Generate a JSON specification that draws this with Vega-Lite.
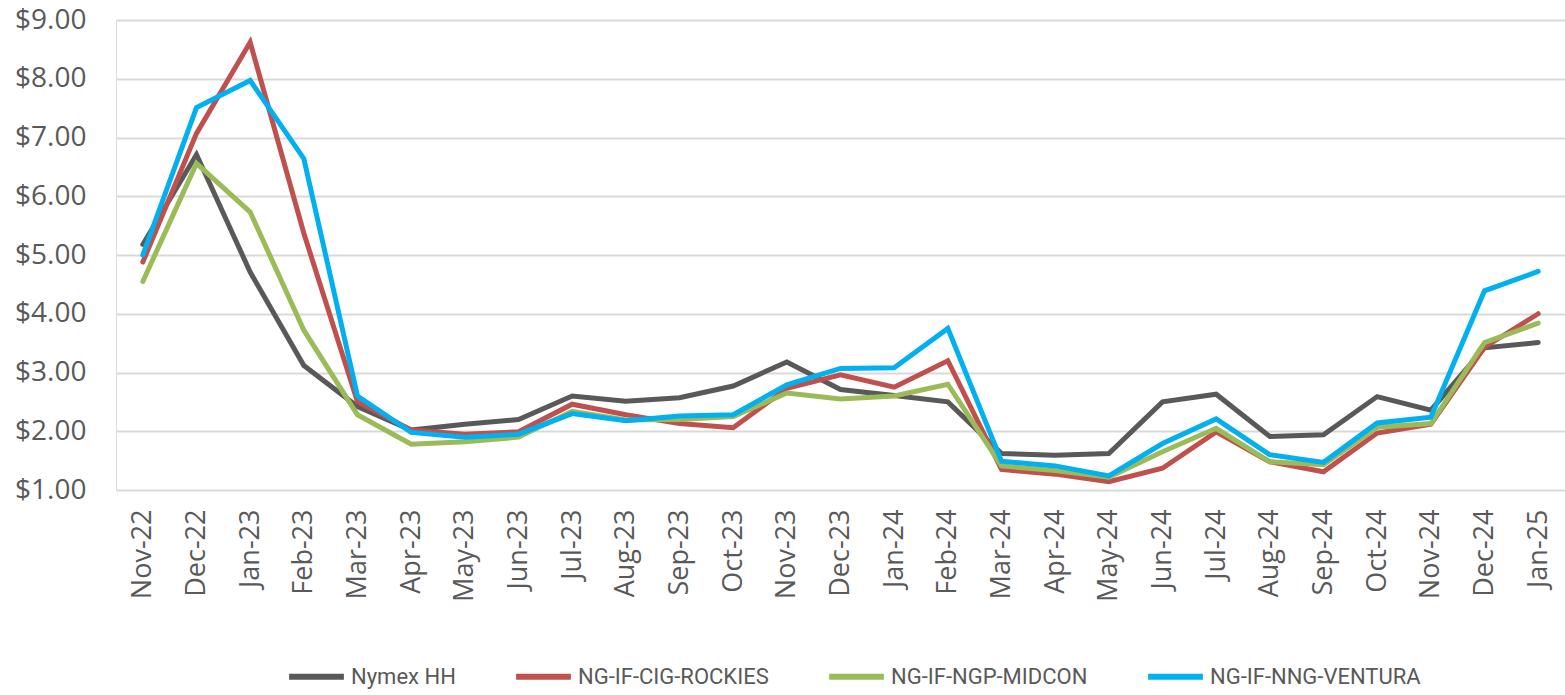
{
  "$schema": "https://vega.github.io/schema/vega-lite/v6.json",
  "autosize": {"type": "none"},
  "width": 1449,
  "height": 470,
  "padding": {"left": 116, "top": 20, "right": 0, "bottom": 205},
  "background": "white",
  "data": {
    "values": [
      {"month": "Nov-22", "Nymex HH": 5.18, "NG-IF-CIG-ROCKIES": 4.88, "NG-IF-NGP-MIDCON": 4.55, "NG-IF-NNG-VENTURA": 5.0},
      {"month": "Dec-22", "Nymex HH": 6.71, "NG-IF-CIG-ROCKIES": 7.07, "NG-IF-NGP-MIDCON": 6.56, "NG-IF-NNG-VENTURA": 7.51},
      {"month": "Jan-23", "Nymex HH": 4.71, "NG-IF-CIG-ROCKIES": 8.62, "NG-IF-NGP-MIDCON": 5.73, "NG-IF-NNG-VENTURA": 7.97},
      {"month": "Feb-23", "Nymex HH": 3.12, "NG-IF-CIG-ROCKIES": 5.37, "NG-IF-NGP-MIDCON": 3.72, "NG-IF-NNG-VENTURA": 6.64},
      {"month": "Mar-23", "Nymex HH": 2.42, "NG-IF-CIG-ROCKIES": 2.5, "NG-IF-NGP-MIDCON": 2.28, "NG-IF-NNG-VENTURA": 2.6},
      {"month": "Apr-23", "Nymex HH": 2.02, "NG-IF-CIG-ROCKIES": 2.02, "NG-IF-NGP-MIDCON": 1.78, "NG-IF-NNG-VENTURA": 1.98},
      {"month": "May-23", "Nymex HH": 2.12, "NG-IF-CIG-ROCKIES": 1.95, "NG-IF-NGP-MIDCON": 1.82, "NG-IF-NNG-VENTURA": 1.9},
      {"month": "Jun-23", "Nymex HH": 2.2, "NG-IF-CIG-ROCKIES": 1.99, "NG-IF-NGP-MIDCON": 1.9, "NG-IF-NNG-VENTURA": 1.95},
      {"month": "Jul-23", "Nymex HH": 2.6, "NG-IF-CIG-ROCKIES": 2.46, "NG-IF-NGP-MIDCON": 2.34, "NG-IF-NNG-VENTURA": 2.3},
      {"month": "Aug-23", "Nymex HH": 2.51, "NG-IF-CIG-ROCKIES": 2.28, "NG-IF-NGP-MIDCON": 2.19, "NG-IF-NNG-VENTURA": 2.18},
      {"month": "Sep-23", "Nymex HH": 2.57, "NG-IF-CIG-ROCKIES": 2.13, "NG-IF-NGP-MIDCON": 2.2, "NG-IF-NNG-VENTURA": 2.26},
      {"month": "Oct-23", "Nymex HH": 2.77, "NG-IF-CIG-ROCKIES": 2.06, "NG-IF-NGP-MIDCON": 2.25, "NG-IF-NNG-VENTURA": 2.28},
      {"month": "Nov-23", "Nymex HH": 3.18, "NG-IF-CIG-ROCKIES": 2.73, "NG-IF-NGP-MIDCON": 2.65, "NG-IF-NNG-VENTURA": 2.79},
      {"month": "Dec-23", "Nymex HH": 2.71, "NG-IF-CIG-ROCKIES": 2.96, "NG-IF-NGP-MIDCON": 2.55, "NG-IF-NNG-VENTURA": 3.07},
      {"month": "Jan-24", "Nymex HH": 2.61, "NG-IF-CIG-ROCKIES": 2.75, "NG-IF-NGP-MIDCON": 2.6, "NG-IF-NNG-VENTURA": 3.08},
      {"month": "Feb-24", "Nymex HH": 2.5, "NG-IF-CIG-ROCKIES": 3.2, "NG-IF-NGP-MIDCON": 2.8, "NG-IF-NNG-VENTURA": 3.75},
      {"month": "Mar-24", "Nymex HH": 1.62, "NG-IF-CIG-ROCKIES": 1.35, "NG-IF-NGP-MIDCON": 1.41, "NG-IF-NNG-VENTURA": 1.49},
      {"month": "Apr-24", "Nymex HH": 1.59, "NG-IF-CIG-ROCKIES": 1.27, "NG-IF-NGP-MIDCON": 1.33, "NG-IF-NNG-VENTURA": 1.41},
      {"month": "May-24", "Nymex HH": 1.62, "NG-IF-CIG-ROCKIES": 1.14, "NG-IF-NGP-MIDCON": 1.22, "NG-IF-NNG-VENTURA": 1.24},
      {"month": "Jun-24", "Nymex HH": 2.5, "NG-IF-CIG-ROCKIES": 1.37, "NG-IF-NGP-MIDCON": 1.65, "NG-IF-NNG-VENTURA": 1.79},
      {"month": "Jul-24", "Nymex HH": 2.63, "NG-IF-CIG-ROCKIES": 1.99, "NG-IF-NGP-MIDCON": 2.05, "NG-IF-NNG-VENTURA": 2.21},
      {"month": "Aug-24", "Nymex HH": 1.91, "NG-IF-CIG-ROCKIES": 1.48, "NG-IF-NGP-MIDCON": 1.48, "NG-IF-NNG-VENTURA": 1.6},
      {"month": "Sep-24", "Nymex HH": 1.94, "NG-IF-CIG-ROCKIES": 1.31, "NG-IF-NGP-MIDCON": 1.43, "NG-IF-NNG-VENTURA": 1.47},
      {"month": "Oct-24", "Nymex HH": 2.59, "NG-IF-CIG-ROCKIES": 1.97, "NG-IF-NGP-MIDCON": 2.07, "NG-IF-NNG-VENTURA": 2.14},
      {"month": "Nov-24", "Nymex HH": 2.36, "NG-IF-CIG-ROCKIES": 2.12, "NG-IF-NGP-MIDCON": 2.13, "NG-IF-NNG-VENTURA": 2.24},
      {"month": "Dec-24", "Nymex HH": 3.42, "NG-IF-CIG-ROCKIES": 3.43, "NG-IF-NGP-MIDCON": 3.51, "NG-IF-NNG-VENTURA": 4.39},
      {"month": "Jan-25", "Nymex HH": 3.51, "NG-IF-CIG-ROCKIES": 4.0, "NG-IF-NGP-MIDCON": 3.84, "NG-IF-NNG-VENTURA": 4.72}
    ]
  },
  "transform": [
    {"fold": ["Nymex HH", "NG-IF-CIG-ROCKIES", "NG-IF-NGP-MIDCON", "NG-IF-NNG-VENTURA"], "as": ["series", "price"]}
  ],
  "mark": {"type": "line", "strokeWidth": 5, "strokeCap": "round", "strokeJoin": "miter"},
  "encoding": {
    "x": {
      "field": "month",
      "type": "ordinal",
      "sort": null,
      "scale": {"type": "point", "padding": 0.5},
      "axis": {
        "title": null,
        "labelAngle": -90,
        "labelFont": "Open Sans",
        "labelFontSize": 27,
        "labelColor": "#595959",
        "labelPadding": 19,
        "ticks": false,
        "domain": false,
        "grid": false
      }
    },
    "y": {
      "field": "price",
      "type": "quantitative",
      "scale": {"domain": [1, 9], "nice": false, "zero": false},
      "axis": {
        "title": null,
        "values": [1, 2, 3, 4, 5, 6, 7, 8, 9],
        "format": "$.2f",
        "labelFont": "Open Sans",
        "labelFontSize": 28,
        "labelColor": "#595959",
        "labelPadding": 30,
        "ticks": false,
        "domain": false,
        "grid": true,
        "gridColor": "#d9d9d9",
        "gridWidth": 2
      }
    },
    "color": {
      "field": "series",
      "type": "nominal",
      "scale": {
        "domain": ["Nymex HH", "NG-IF-CIG-ROCKIES", "NG-IF-NGP-MIDCON", "NG-IF-NNG-VENTURA"],
        "range": ["#595959", "#C0504D", "#9BBB59", "#00B0F0"]
      },
      "legend": {
        "title": null,
        "orient": "none",
        "legendX": 170,
        "legendY": 626,
        "direction": "horizontal",
        "symbolType": "stroke",
        "symbolSize": 3000,
        "symbolStrokeWidth": 6,
        "labelFont": "Roboto",
        "labelFontSize": 22,
        "labelLimit": 400,
        "labelColor": "#595959",
        "labelOffset": 4,
        "columnPadding": 48
      }
    }
  }
}
